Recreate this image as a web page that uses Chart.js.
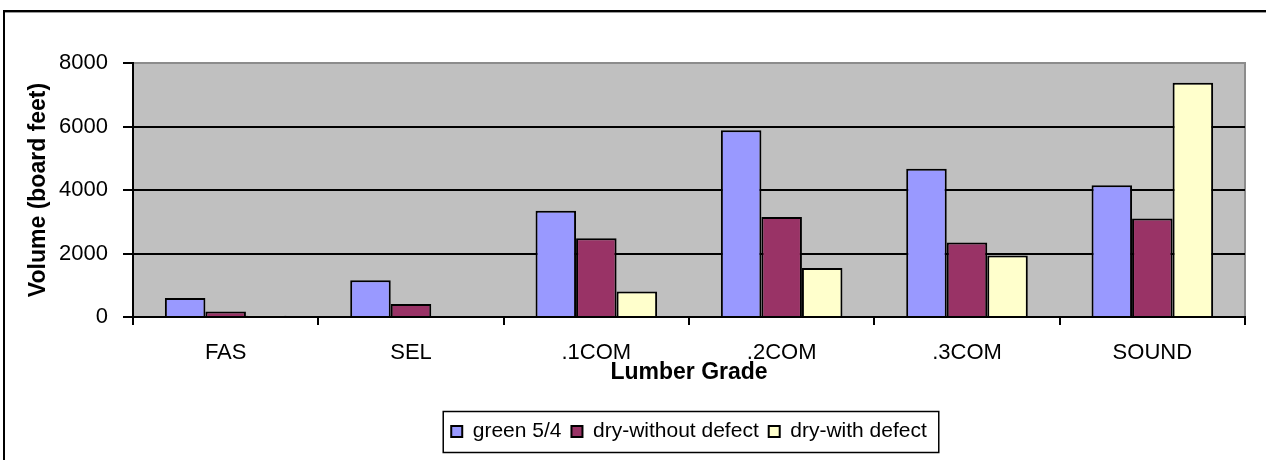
<!DOCTYPE html>
<html>
<head>
<meta charset="utf-8">
<script src="https://cdn.jsdelivr.net/npm/chart.js@4"></script>
<style>
  html, body { margin: 0; padding: 0; background: #fff; overflow: hidden; }
  #wrap { width: 1266px; height: 460px; }
</style>
</head>
<body>
<div id="wrap"><canvas id="lumberChart" width="1266" height="460"></canvas></div>
<script>
// chart data
const grades = ['FAS', 'SEL', '.1COM', '.2COM', '.3COM', 'SOUND'];
const green54 = [600, 1160, 3350, 5880, 4670, 4150];
const dryWithout = [170, 410, 2480, 3150, 2350, 3100];
const dryWith = [40, 35, 800, 1540, 1940, 7380];
const yTicks = [0, 2000, 4000, 6000, 8000];

const FONT = '"Liberation Sans", Arial, sans-serif';

// gray plot background, frame and legend box
const decor = {
    id: 'decor',
    beforeDraw(chart) {
        const ctx = chart.ctx;
        const a = chart.chartArea;
        ctx.save();
        // outer frame (top + left only)
        ctx.fillStyle = '#000';
        ctx.fillRect(3, 10, 1263, 2);
        ctx.fillRect(3, 10, 2, 450);
        ctx.fillStyle = '#9a9a9a';
        ctx.fillRect(5, 12, 1261, 1);
        // plot background
        ctx.fillStyle = '#c0c0c0';
        ctx.fillRect(a.left, a.top, a.right - a.left, a.bottom - a.top);
        ctx.strokeStyle = '#8c8c8c';
        ctx.lineWidth = 2;
        ctx.beginPath();
        ctx.moveTo(a.left, a.top);
        ctx.lineTo(a.right, a.top);
        ctx.lineTo(a.right, a.bottom);
        ctx.stroke();
        ctx.restore();
    },
    afterDraw(chart) {
        const boxes = chart.legend.legendHitBoxes;
        if (!boxes || !boxes.length) return;
        const first = boxes[0];
        const last = boxes[boxes.length - 1];
        const cy = first.top + first.height / 2;
        const ctx = chart.ctx;
        ctx.save();
        ctx.strokeStyle = '#000';
        ctx.lineWidth = 1.5;
        ctx.strokeRect(first.left - 8, cy - 20, last.left + last.width - first.left + 20, 41);
        ctx.restore();
    }
};

const ctx = document.getElementById('lumberChart').getContext('2d');
const chart = new Chart(ctx, {
    type: 'bar',
    data: {
        labels: grades,
        datasets: [
            { label: 'green 5/4', data: green54, backgroundColor: '#9999ff' },
            { label: 'dry-without defect', data: dryWithout, backgroundColor: '#993366' },
            { label: 'dry-with defect', data: dryWith, backgroundColor: '#ffffcc' }
        ]
    },
    options: {
        responsive: false,
        animation: false,
        devicePixelRatio: 1,
        layout: { padding: { top: 63, right: 21, left: 0, bottom: 8 } },
        datasets: {
            bar: {
                borderColor: '#000',
                borderWidth: 2,
                categoryPercentage: 0.656,
                barPercentage: 1
            }
        },
        plugins: {
            tooltip: { enabled: false },
            legend: {
                position: 'bottom',
                fullSize: false,
                labels: {
                    color: '#000',
                    font: { family: FONT, size: 21 },
                    boxWidth: 11,
                    boxHeight: 11,
                    padding: 10
                }
            }
        },
        scales: {
            x: {
                afterFit(scale) { scale.height = 94; },
                grid: { drawOnChartArea: false, color: '#000', lineWidth: 2, tickLength: 8, offset: true },
                border: { color: '#000', width: 2 },
                ticks: { color: '#000', font: { family: FONT, size: 22 }, padding: 15, maxRotation: 0 },
                title: {
                    display: true,
                    text: 'Lumber Grade',
                    color: '#000',
                    font: { family: FONT, size: 23, weight: 'bold' },
                    padding: { top: 0, bottom: 25 }
                }
            },
            y: {
                min: 0,
                max: 8000,
                afterFit(scale) { scale.width = 133; },
                afterBuildTicks(scale) { scale.ticks = yTicks.map(v => ({ value: v })); },
                grid: {
                    color: c => (c.tick && c.tick.value === 8000 ? '#8c8c8c' : '#000'),
                    tickColor: '#000',
                    lineWidth: 2,
                    tickLength: 10
                },
                border: { color: '#000', width: 2 },
                ticks: {
                    color: '#000',
                    font: { family: FONT, size: 22 },
                    padding: 15,
                    callback: v => String(v)
                },
                title: {
                    display: true,
                    text: 'Volume (board feet)',
                    color: '#000',
                    font: { family: FONT, size: 23, weight: 'bold' },
                    padding: { top: 25, bottom: 0 }
                }
            }
        }
    },
    plugins: [decor]
});
</script>
</body>
</html>
